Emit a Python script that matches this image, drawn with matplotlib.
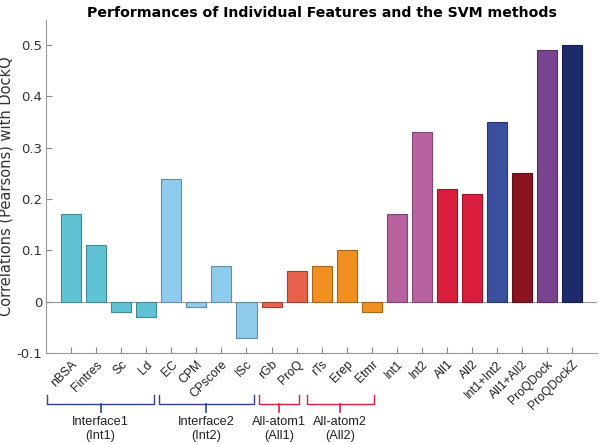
import numpy as np
import matplotlib.pyplot as plt
import matplotlib.colors as mcolors

# feature / method names and their Pearson correlation with DockQ
labels = ["nBSA", "Fintres", "Sc", "Ld", "EC", "CPM", "CPscore", "ISc",
          "rGb", "ProQ", "rTs", "Erep", "Etmr", "Int1", "Int2", "All1", "All2",
          "Int1+Int2", "All1+All2", "ProQDock", "ProQDockZ"]
values = [0.17, 0.11, -0.02, -0.03, 0.24, -0.01, 0.07, -0.07,
          -0.01, 0.06, 0.07, 0.10, -0.02, 0.17, 0.33, 0.22, 0.21,
          0.35, 0.25, 0.49, 0.50]
colors = ["#5fc3d3"] * 4 + ["#8ecbec"] * 4 + ["#e8614a"] * 2 + ["#ef9020"] * 3 \
    + ["#b8629f"] * 2 + ["#d91e3d"] * 2 + ["#3a509e", "#8a1420", "#78448f", "#1d2a6c"]

# groups shown with braces under the x axis: (label, x from, x to, colour)
groups = [("Interface1\n(Int1)", 0.05, 4.3, "#2f3f94"),
          ("Interface2\n(Int2)", 4.5, 8.3, "#2f3f94"),
          ("All-atom1\n(All1)", 8.5, 10.1, "#d9203f"),
          ("All-atom2\n(All2)", 10.4, 13.1, "#d9203f")]

fig = plt.figure(figsize=(6, 4.44), dpi=100)
ax = fig.add_axes([0.077, 0.205, 0.918, 0.751])

x = np.arange(1, len(values) + 1)
edges = [tuple(c * 0.7 for c in mcolors.to_rgb(col)) for col in colors]
ax.bar(x, values, width=0.8, color=colors, edgecolor=edges, linewidth=0.8, zorder=2)
ax.axhline(0, color="#999999", linewidth=0.8, zorder=1)

ax.set_xlim(0, 22)
ax.set_ylim(-0.1, 0.55)
ax.set_yticks([-0.1, 0, 0.1, 0.2, 0.3, 0.4, 0.5])
ax.set_yticklabels(["-0.1", "0", "0.1", "0.2", "0.3", "0.4", "0.5"])
ax.set_xticks(x)
ax.set_xticklabels(labels, rotation=45, ha="right", rotation_mode="anchor",
                   fontsize=8.8, family="Liberation Sans", color="#222222")
ax.tick_params(axis="both", direction="in", colors="#888888", length=4)
ax.tick_params(axis="y", labelsize=9.5, labelcolor="#333333", pad=3)
ax.tick_params(axis="x", labelcolor="#222222", pad=4)
for s in ["top", "right"]:
    ax.spines[s].set_visible(False)
for s in ["left", "bottom"]:
    ax.spines[s].set_color("#999999")
    ax.spines[s].set_linewidth(0.8)

ax.set_ylabel("Correlations (Pearsons) with DockQ", fontsize=10.5, color="#333333",
              labelpad=2)
ax.set_title("Performances of Individual Features and the SVM methods",
             fontsize=10.2, fontweight="bold", pad=1)

# braces
trans = ax.get_xaxis_transform()
y_top, y_mid, y_tip = -0.126, -0.153, -0.177
for name, x0, x1, col in groups:
    xm = (x0 + x1) / 2
    ax.plot([x0, x0, x1, x1], [y_top, y_mid, y_mid, y_top], color=col, lw=1,
            transform=trans, clip_on=False)
    ax.plot([xm, xm], [y_mid, y_tip], color=col, lw=1.2, transform=trans, clip_on=False)
    ax.text(xm, -0.19, name, transform=trans, ha="center", va="top",
            fontsize=9.2, family="Liberation Sans", color="#222222", linespacing=1.15)

fig.savefig("out.png", dpi=100)
